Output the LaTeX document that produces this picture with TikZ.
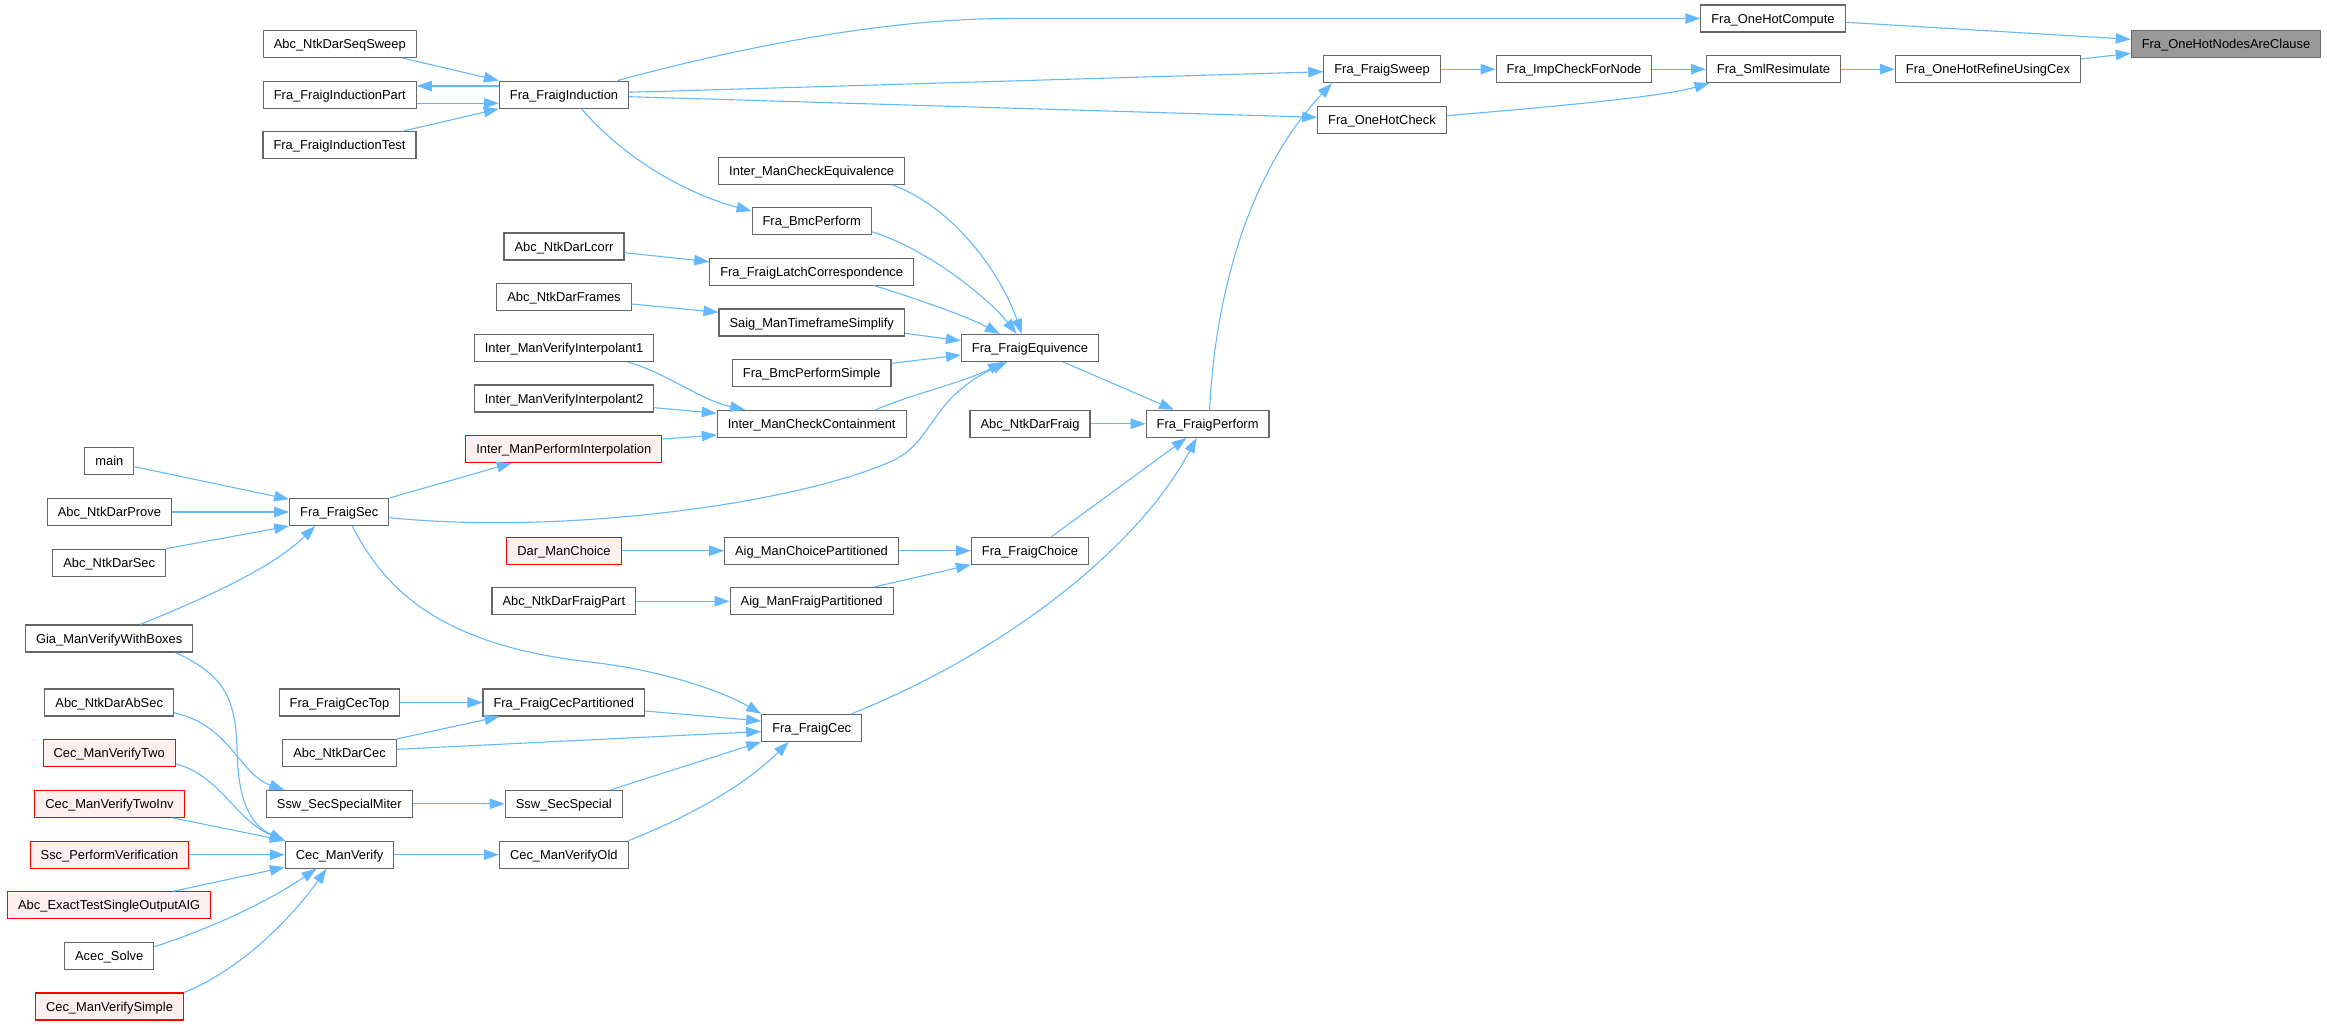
\documentclass[tikz,border=0pt]{standalone}
\usepackage{fontspec}
\setmainfont{Liberation Sans}
\usetikzlibrary{arrows.meta}
\definecolor{edgeblue}{HTML}{63B8FF}
\definecolor{boxgray}{HTML}{666666}
\definecolor{rootfill}{HTML}{999999}
\definecolor{redfill}{HTML}{FFF0F0}
\begin{document}
\begin{tikzpicture}[x=1pt,y=-1pt,
 fn/.style={draw=boxgray, line width=1.1pt, fill=white, inner xsep=10.5pt, inner ysep=0pt, minimum height=27pt, text height=9.2pt, text depth=0pt, font=\fontsize{12.9}{15}\selectfont},
 redfn/.style={fn, draw=red, fill=redfill},
 rootfn/.style={fn, fill=rootfill},
 edge/.style={draw=edgeblue, line width=1.1pt, -{Triangle[length=15pt,width=10.5pt]}}]
\useasboundingbox (0,0) rectangle (2327,1025);
% nodes
\node[rootfn] (n0) at (2226,44) {Fra\_OneHotNodesAreClause};
\node[fn] (n1) at (1773,18.5) {Fra\_OneHotCompute};
\node[fn] (n2) at (1988,69.2) {Fra\_OneHotRefineUsingCex};
\node[fn] (n3) at (1773.5,69.2) {Fra\_SmlResimulate};
\node[fn] (n4) at (1574,69.2) {Fra\_ImpCheckForNode};
\node[fn] (n5) at (1382,69.2) {Fra\_FraigSweep};
\node[fn] (n6) at (1382,119.8) {Fra\_OneHotCheck};
\node[fn] (n7) at (564,94.7) {Fra\_FraigInduction};
\node[fn] (n8) at (1207.6,423.8) {Fra\_FraigPerform};
\node[fn] (n9) at (339.8,44) {Abc\_NtkDarSeqSweep};
\node[fn] (n10) at (339.8,94.7) {Fra\_FraigInductionPart};
\node[fn] (n11) at (339.5,145.3) {Fra\_FraigInductionTest};
\node[fn] (n12) at (1030,348) {Fra\_FraigEquivence};
\node[fn] (n13) at (1030,423.8) {Abc\_NtkDarFraig};
\node[fn] (n14) at (1030,550.7) {Fra\_FraigChoice};
\node[fn] (n15) at (811.7,727.8) {Fra\_FraigCec};
\node[fn] (n16) at (811.7,170.7) {Inter\_ManCheckEquivalence};
\node[fn] (n17) at (811.7,221.3) {Fra\_BmcPerform};
\node[fn] (n18) at (811.7,271.8) {Fra\_FraigLatchCorrespondence};
\node[fn] (n19) at (811.7,322.5) {Saig\_ManTimeframeSimplify};
\node[fn] (n20) at (811.7,373) {Fra\_BmcPerformSimple};
\node[fn] (n21) at (811.7,423.8) {Inter\_ManCheckContainment};
\node[fn] (n22) at (339.3,512) {Fra\_FraigSec};
\node[fn] (n23) at (564,246.5) {Abc\_NtkDarLcorr};
\node[fn] (n24) at (564,297) {Abc\_NtkDarFrames};
\node[fn] (n25) at (564,348) {Inter\_ManVerifyInterpolant1};
\node[fn] (n26) at (564,398.5) {Inter\_ManVerifyInterpolant2};
\node[redfn] (n27) at (563.8,449) {Inter\_ManPerformInterpolation};
\node[fn] (n28) at (109.4,461) {main};
\node[fn] (n29) at (109.4,512) {Abc\_NtkDarProve};
\node[fn] (n30) at (109.2,562.7) {Abc\_NtkDarSec};
\node[fn] (n31) at (109.2,638.5) {Gia\_ManVerifyWithBoxes};
\node[fn] (n32) at (811.5,550.7) {Aig\_ManChoicePartitioned};
\node[fn] (n33) at (811.7,601.3) {Aig\_ManFraigPartitioned};
\node[redfn] (n34) at (564,550.7) {Dar\_ManChoice};
\node[fn] (n35) at (563.8,601.3) {Abc\_NtkDarFraigPart};
\node[fn] (n36) at (563.8,702.5) {Fra\_FraigCecPartitioned};
\node[fn] (n37) at (339.5,753) {Abc\_NtkDarCec};
\node[fn] (n38) at (563.8,803.8) {Ssw\_SecSpecial};
\node[fn] (n39) at (563.8,854.7) {Cec\_ManVerifyOld};
\node[fn] (n40) at (339.5,702.5) {Fra\_FraigCecTop};
\node[fn] (n41) at (339.3,803.8) {Ssw\_SecSpecialMiter};
\node[fn] (n42) at (109.2,702.5) {Abc\_NtkDarAbSec};
\node[fn] (n43) at (339.6,854.7) {Cec\_ManVerify};
\node[redfn] (n44) at (109.2,753) {Cec\_ManVerifyTwo};
\node[redfn] (n45) at (109.5,803.8) {Cec\_ManVerifyTwoInv};
\node[redfn] (n46) at (109.5,854.7) {Ssc\_PerformVerification};
\node[redfn] (n47) at (109.2,905.3) {Abc\_ExactTestSingleOutputAIG};
\node[fn] (n48) at (109.2,955.8) {Acec\_Solve};
\node[redfn] (n49) at (109.5,1006.5) {Cec\_ManVerifySimple};
% edges
\draw[edge] ([yshift=-3.8pt]n1.east) -- ([yshift=4.7pt]n0.west);
\draw[edge] ([yshift=10.2pt]n2.east) -- ([yshift=-9.3pt]n0.west);
\draw[edge] (n3.east) -- (n2.west);
\draw[edge] (n4.east) -- (n3.west);
\draw[edge] (n5.east) -- (n4.west);
\draw[edge] ([yshift=4.1pt]n6.east) .. controls (1560,106) and (1660,97) .. ([xshift=-64pt]n3.south);
\draw[edge] ([xshift=53.3pt]n7.north) .. controls (730,50) and (880,18.5) .. (1010,18.5) -- (n1.west);
\draw[edge] ([yshift=2.4pt]n7.east) -- ([yshift=-2.5pt]n5.west);
\draw[edge] ([yshift=-2pt]n7.east) -- ([yshift=2.5pt]n6.west);
\draw[edge] ([xshift=2pt]n8.north) .. controls (1216,280) and (1255,165) .. ([xshift=-50pt]n5.south);
\draw[edge] ([xshift=63pt]n9.south) -- (n7.north west);
\draw[edge] ([yshift=-8.6pt]n10.east) -- ([yshift=-8.6pt]n7.west);
\draw[edge] ([yshift=8.7pt]n7.west) -- ([yshift=8.7pt]n10.east);
\draw[edge] ([xshift=63pt]n11.north) -- (n7.south west);
\draw[edge] ([xshift=17.6pt]n7.south) .. controls (625,160) and (690,195) .. ([yshift=10.3pt]n17.west);
\draw[edge] ([xshift=80pt]n16.south) .. controls (950,205) and (1000,270) .. ([xshift=-8.3pt]n12.north);
\draw[edge] ([yshift=-10.4pt]n17.east) .. controls (930,250) and (990,300) .. ([xshift=-13.3pt]n12.north);
\draw[edge] ([xshift=63.3pt]n18.south) .. controls (930,303) and (970,318) .. ([xshift=-30pt]n12.north);
\draw[edge] ([yshift=-10.8pt]n19.east) -- ([yshift=7.3pt]n12.west);
\draw[edge] ([yshift=9.7pt]n20.east) -- ([yshift=-7pt]n12.west);
\draw[edge] ([xshift=63.8pt]n21.north) .. controls (915,393) and (965,382) .. ([xshift=-27pt]n12.south);
\draw[edge] ([yshift=-5.7pt]n22.east) .. controls (560,535) and (790,505) .. (890,462) .. controls (925,447) and (930,415) .. (960,390) .. controls (975,377) and (990,370) .. ([xshift=-23pt]n12.south);
\draw[edge] ([yshift=-6.2pt]n23.east) -- ([yshift=10.1pt]n18.west);
\draw[edge] ([yshift=-7pt]n24.east) -- ([yshift=10.2pt]n19.west);
\draw[edge] ([xshift=33.3pt]n12.south) -- ([xshift=-33.6pt]n8.north);
\draw[edge] (n13.east) -- (n8.west);
\draw[edge] ([xshift=21.5pt]n14.north) -- ([xshift=-21pt]n8.south);
\draw[edge] ([xshift=40pt]n15.north) .. controls (1010,650) and (1140,545) .. ([xshift=-11pt]n8.south);
\draw[edge] ([xshift=63.6pt]n25.south) .. controls (665,372) and (700,400) .. ([xshift=-66.7pt]n21.north);
\draw[edge] ([yshift=-9.2pt]n26.east) -- ([yshift=10.5pt]n21.west);
\draw[edge] ([yshift=10pt]n27.east) -- ([yshift=-11.2pt]n21.west);
\draw[edge] (n22.north east) -- ([xshift=-52pt]n27.south);
\draw[edge] ([yshift=-5.7pt]n28.east) -- ([yshift=-1.3pt]n22.north west);
\draw[edge] (n29.east) -- (n22.west);
\draw[edge] (n30.north east) -- (n22.south west);
\draw[edge] ([xshift=31pt]n31.north) .. controls (200,600) and (270,570) .. ([xshift=-24pt]n22.south);
\draw[edge] ([xshift=13pt]n22.south) .. controls (385,590) and (440,645) .. (590,662) .. controls (660,670) and (720,690) .. (n15.north west);
\draw[edge] (n34.east) -- (n32.west);
\draw[edge] (n32.east) -- (n14.west);
\draw[edge] (n35.east) -- (n33.west);
\draw[edge] ([xshift=61.3pt]n33.north) -- (n14.south west);
\draw[edge] ([xshift=-18pt]n31.south east) .. controls (225,675) and (236,700) .. (237,750) .. controls (238,800) and (250,825) .. (n43.north west);
\draw[edge] ([yshift=-10.2pt]n42.east) .. controls (230,725) and (240,775) .. ([xshift=18.5pt]n41.north west);
\draw[edge] ([yshift=-11pt]n44.east) .. controls (220,775) and (235,820) .. (n43.north west);
\draw[edge] ([xshift=-12pt]n45.south east) -- (n43.north west);
\draw[edge] (n46.east) -- (n43.west);
\draw[edge] ([xshift=64pt]n47.north) -- ([yshift=1.5pt]n43.south west);
\draw[edge] ([yshift=9pt]n48.east) .. controls (220,925) and (270,900) .. ([xshift=-23pt]n43.south);
\draw[edge] (n49.north east) .. controls (240,970) and (290,920) .. ([xshift=-13pt]n43.south);
\draw[edge] (n40.east) -- (n36.west);
\draw[edge] (n37.north east) -- ([xshift=17pt]n36.south west);
\draw[edge] ([yshift=3.7pt]n37.east) -- ([yshift=-3.7pt]n15.west);
\draw[edge] ([yshift=-8.5pt]n36.east) -- ([yshift=6.8pt]n15.west);
\draw[edge] (n41.east) -- (n38.west);
\draw[edge] ([xshift=47pt]n38.north) -- (n15.south west);
\draw[edge] (n43.east) -- (n39.west);
\draw[edge] (n39.north east) .. controls (680,820) and (740,790) .. ([xshift=-23pt]n15.south);
\end{tikzpicture}
\end{document}
